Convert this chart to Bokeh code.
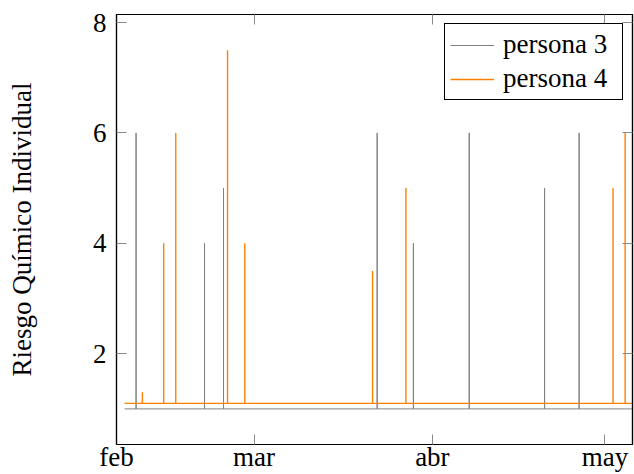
from bokeh.plotting import figure
from bokeh.models import LinearAxis, FixedTicker, Range1d, Legend, LegendItem
from bokeh.embed import file_html
from bokeh.resources import INLINE

# ---- data (x = days since 1 Feb) ----
meses = ["feb", "mar", "abr", "may"]
meses_pos = [4.1, 28, 59, 89]
riesgo_ticks = [2, 4, 6, 8]

inicio = 5.5
fin = 94.0

dias_p3 = [7.5, 19.4, 22.7, 49.4, 55.7, 65.4, 78.5, 84.5]
riesgo_p3 = [6, 4, 5, 6, 4, 6, 5, 6]
base_p3 = 1.0

dias_p4 = [8.6, 12.3, 14.4, 23.4, 26.4, 48.6, 54.4, 90.4, 92.5]
riesgo_p4 = [1.3, 4, 6, 7.5, 4, 3.5, 5, 5, 6]
base_p4 = 1.1


def spikes(dias, vals, base):
    xs, ys = [inicio], [base]
    for d, v in zip(dias, vals):
        xs += [d, d, d]
        ys += [base, v, base]
    xs.append(fin)
    ys.append(base)
    return xs, ys


FONT = "Liberation Serif"
FS = "27px"
TICK_COLOR = "#8a8a8a"

p = figure(width=634, height=474, output_backend="svg", toolbar_location=None,
           x_range=Range1d(4.1, 93.78), y_range=Range1d(0.355, 8.1455),
           min_border_left=116, min_border_right=2, min_border_top=14, min_border_bottom=20)
p.grid.visible = False
p.outline_line_color = "black"
p.outline_line_width = 1.2
p.background_fill_color = "white"
p.border_fill_color = "white"

x3, y3 = spikes(dias_p3, riesgo_p3, base_p3)
x4, y4 = spikes(dias_p4, riesgo_p4, base_p4)
r3 = p.line(x3, y3, line_color="#808080", line_width=1.0)
r4 = p.line(x4, y4, line_color="#ff8000", line_width=1.4)


def style_axis(ax, labels=True):
    ax.axis_line_color = "black"
    ax.axis_line_width = 1.2
    ax.major_tick_in = 10
    ax.major_tick_out = 0
    ax.major_tick_line_color = TICK_COLOR
    ax.major_tick_line_width = 1
    ax.minor_tick_line_color = None
    if labels:
        ax.major_label_text_font = FONT
        ax.major_label_text_font_size = FS
        ax.major_label_text_color = "black"
    else:
        ax.major_label_text_color = None
        ax.major_label_standoff = 0


xa = p.xaxis[0]
xa.ticker = FixedTicker(ticks=meses_pos)
xa.major_label_overrides = {pos: m for pos, m in zip(meses_pos, meses)}
style_axis(xa)
xa.major_label_standoff = -3

ya = p.yaxis[0]
ya.ticker = FixedTicker(ticks=riesgo_ticks)
style_axis(ya)
ya.major_label_standoff = 10
ya.axis_label = "Riesgo Químico Individual"
ya.axis_label_text_font = FONT
ya.axis_label_text_font_size = FS
ya.axis_label_text_font_style = "normal"
ya.axis_label_text_color = "black"
ya.axis_label_standoff = 53

top = LinearAxis(ticker=FixedTicker(ticks=meses_pos[1:]))
style_axis(top, labels=False)
p.add_layout(top, "above")

right = LinearAxis(ticker=FixedTicker(ticks=riesgo_ticks))
style_axis(right, labels=False)
p.add_layout(right, "right")

legend = Legend(items=[LegendItem(label="persona 3", renderers=[r3]),
                       LegendItem(label="persona 4", renderers=[r4])],
                location="top_right")
legend.border_line_color = "black"
legend.border_line_width = 1
legend.border_line_alpha = 1
legend.background_fill_alpha = 1
legend.label_text_font = FONT
legend.label_text_font_size = FS
legend.label_text_color = "black"
legend.glyph_width = 44
legend.glyph_height = 20
legend.label_standoff = 9
legend.padding = 5
legend.spacing = 3
legend.margin = 9
legend.label_width = 114
p.add_layout(legend)

open("out.html", "w").write(file_html(p, INLINE))
